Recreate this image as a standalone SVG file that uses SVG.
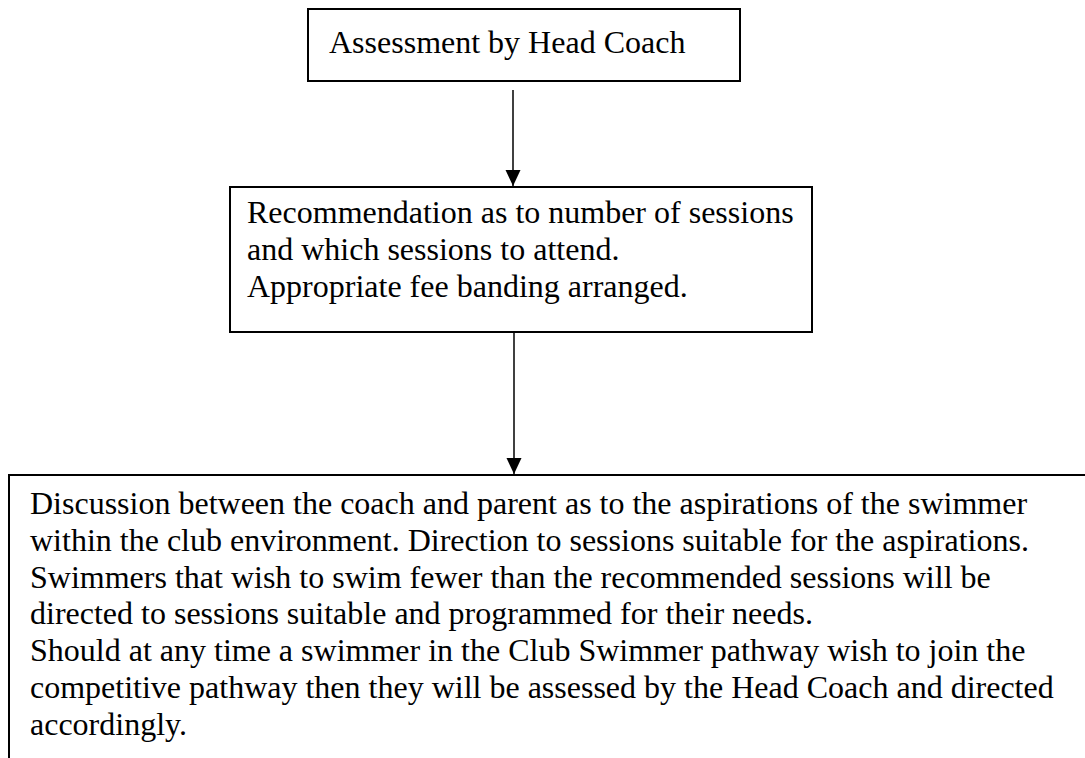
<svg xmlns="http://www.w3.org/2000/svg" width="1085" height="758" viewBox="0 0 1085 758">
<style>
.box{fill:#fff;stroke:#000;stroke-width:2}
.t{font-family:"Liberation Serif","Times New Roman",serif;font-size:32px;fill:#000}
.c{stroke:#000;stroke-width:1.5;fill:none}
</style>
<defs>
<marker id="ah" viewBox="0 0 16 16" refX="16" refY="8" markerWidth="16" markerHeight="16" markerUnits="userSpaceOnUse" orient="auto">
<path d="M0,0.5 L16,8 L0,15.5 z" fill="#000"/>
</marker>
</defs>
<rect width="1085" height="758" fill="#fff"/>
<g id="node1">
<rect class="box" x="308" y="9" width="432" height="72"/>
<text class="t" x="329" y="53">Assessment by Head Coach</text>
</g>
<g id="node2">
<rect class="box" x="230" y="187" width="582" height="145"/>
<text class="t" x="247" y="223">Recommendation as to number of sessions</text>
<text class="t" x="247" y="260">and which sessions to attend.</text>
<text class="t" x="247" y="297">Appropriate fee banding arranged.</text>
</g>
<g id="node3">
<rect class="box" x="9" y="475" width="1100" height="300"/>
<text class="t" x="30" y="514">Discussion between the coach and parent as to the aspirations of the swimmer</text>
<text class="t" x="30" y="551">within the club environment. Direction to sessions suitable for the aspirations.</text>
<text class="t" x="30" y="588">Swimmers that wish to swim fewer than the recommended sessions will be</text>
<text class="t" x="30" y="624">directed to sessions suitable and programmed for their needs.</text>
<text class="t" x="30" y="661">Should at any time a swimmer in the Club Swimmer pathway wish to join the</text>
<text class="t" x="30" y="698">competitive pathway then they will be assessed by the Head Coach and directed</text>
<text class="t" x="30" y="735">accordingly.</text>
</g>
<g id="connectors">
<line class="c" x1="513" y1="90" x2="513" y2="186" marker-end="url(#ah)"/>
<line class="c" x1="514" y1="332" x2="514" y2="474" marker-end="url(#ah)"/>
</g>
</svg>
